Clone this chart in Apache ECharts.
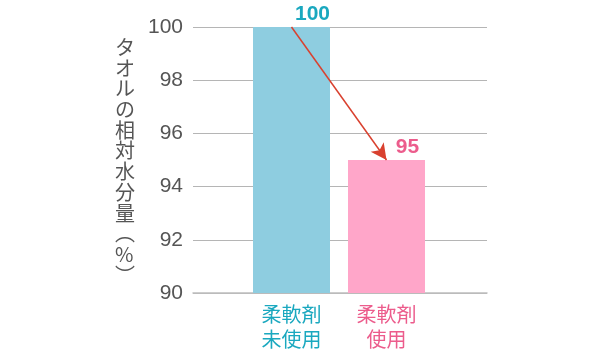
<!DOCTYPE html>
<html><head><meta charset="utf-8">
<script src="https://cdn.jsdelivr.net/npm/echarts@6/dist/echarts.min.js"></script>
<style>html,body{margin:0;padding:0;background:#fff}#c{width:601px;height:352px}</style>
</head><body><div id="c"></div>
<script>
const categories = ['柔軟剤\n未使用', '柔軟剤\n使用'];
const values = [100, 95];
const barColors = ['#8ecde0', '#ffa6c9'];
const labelColors = ['#1aa8bf', '#ec5c8c'];
const yTicks = {min: 90, max: 100, interval: 2};
const yName = 'タオルの相対水分量︵%︶';

const chart = echarts.init(document.getElementById('c'), null, {renderer: 'canvas'});
const numFont = '"Liberation Sans", Arial, sans-serif';
const jpFont = '"Noto Sans CJK JP", sans-serif';
chart.setOption({
  animation: false,
  grid: [
    {left: 193, right: 114, top: 27, bottom: 59},
    {left: 244, right: 167, top: 27, bottom: 59}
  ],
  xAxis: [
    {gridIndex: 0, type: 'category', data: [], axisLine: {show: true, lineStyle: {color: '#bdbdbd', width: 1.5}}, axisTick: {show: false}, axisLabel: {show: false}},
    {gridIndex: 1, type: 'category', data: categories, axisLine: {show: false}, axisTick: {show: false},
      axisLabel: {margin: 9, fontFamily: jpFont, fontSize: 20, lineHeight: 25,
        color: (v, i) => labelColors[i]}}
  ],
  yAxis: [
    {gridIndex: 0, type: 'value', min: yTicks.min, max: yTicks.max, interval: yTicks.interval,
      axisLine: {show: false}, axisTick: {show: false},
      axisLabel: {margin: 10, fontFamily: numFont, fontSize: 21, color: '#555'},
      splitLine: {lineStyle: {color: '#b5b5b5', width: 1}}},
    {gridIndex: 1, type: 'value', min: yTicks.min, max: yTicks.max, interval: yTicks.interval, show: false}
  ],
  graphic: [{
    type: 'text', left: 115, top: 37,
    style: {text: yName.split('').join('\n'), fontFamily: jpFont, fontSize: 20, lineHeight: 20.7, fill: '#555', align: 'center'}
  }],
  series: [{
    type: 'bar', xAxisIndex: 1, yAxisIndex: 1, barWidth: 77,
    data: values.map((v, i) => ({value: v, itemStyle: {color: barColors[i]},
      label: {show: true, position: 'top', offset: [21, 3], fontFamily: numFont, fontWeight: 'bold', fontSize: 21, color: labelColors[i]}})),
    markLine: {
      silent: true, symbol: ['none', 'arrow'], symbolSize: [12, 16],
      label: {show: false},
      lineStyle: {color: '#d9412f', width: 1.5, type: 'solid'},
      data: [[{coord: [0, values[0]]}, {coord: [1, values[1]]}]]
    }
  }]
});
</script></body></html>
